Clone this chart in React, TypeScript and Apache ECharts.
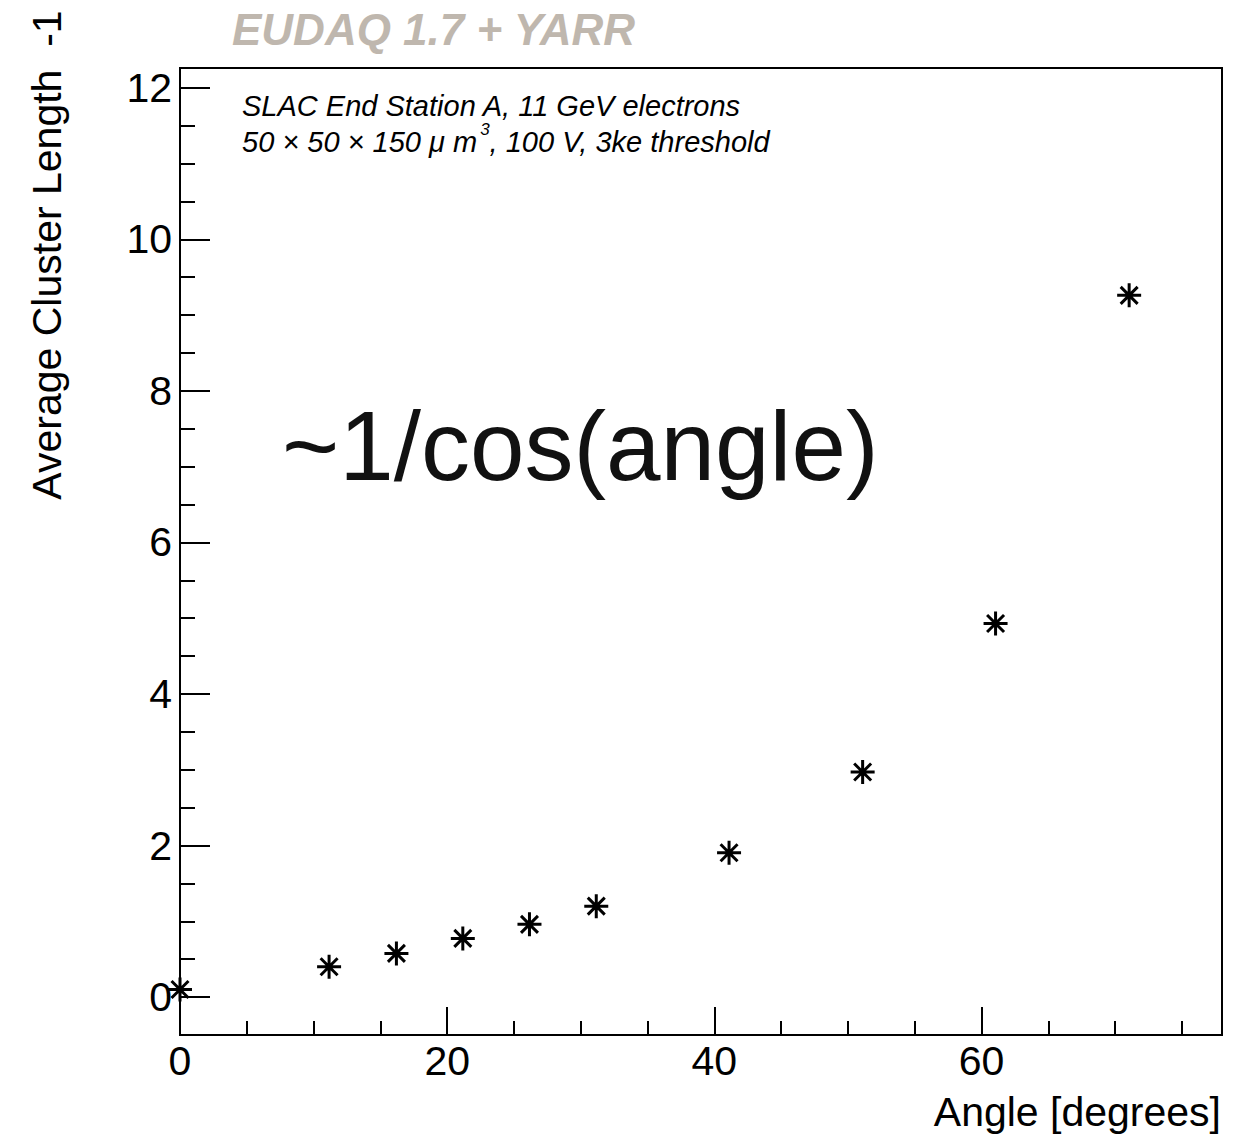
import React, { useEffect, useRef } from "react";
import * as echarts from "echarts";

const angles = [0, 11.16, 16.2, 21.17, 26.16, 31.16, 41.1, 51.1, 61.05, 71.05];
const clusterLen = [0.1, 0.4, 0.577, 0.775, 0.96, 1.2, 1.905, 2.97, 4.93, 9.26];

const xMajor = [0, 20, 40, 60];
const xMinor = [5, 10, 15, 25, 30, 35, 45, 50, 55, 65, 70, 75];
const yMajor = [0, 2, 4, 6, 8, 10, 12];
const yMinor = [-0.5, 0.5, 1, 1.5, 2.5, 3, 3.5, 4.5, 5, 5.5, 6.5, 7, 7.5, 8.5, 9, 9.5, 10.5, 11, 11.5];

const FONT = "'Liberation Sans', Arial, Helvetica, sans-serif";
const STAR = "path://M0 -10 L0 10 M-10 0 L10 0 M-7.07 -7.07 L7.07 7.07 M-7.07 7.07 L7.07 -7.07";

export default function App() {
  const ref = useRef<HTMLDivElement>(null);
  useEffect(() => {
    document.body.style.margin = "0";
    const chart = echarts.init(ref.current!, null, { renderer: "svg" });
    const axisLine = { show: true, onZero: false, lineStyle: { color: "#000", width: 2 } };
    const tickStyle = { color: "#000", width: 2 };
    const labelStyle = { color: "#000", fontSize: 41, fontFamily: FONT };
    chart.setOption({
      animation: false,
      backgroundColor: "#fff",
      grid: {
        left: 180,
        right: 25,
        top: 68,
        bottom: 102,
        show: true,
        borderColor: "#000",
        borderWidth: 2,
        backgroundColor: "transparent",
      },
      xAxis: [
        {
          type: "value",
          min: 0,
          max: 78,
          position: "bottom",
          axisLine,
          axisTick: { show: true, inside: true, length: 28, customValues: xMajor, lineStyle: tickStyle },
          axisLabel: { ...labelStyle, margin: 5, customValues: xMajor },
          splitLine: { show: false },
        },
        {
          type: "value",
          min: 0,
          max: 78,
          position: "bottom",
          axisLine: { show: false, onZero: false },
          axisTick: { show: true, inside: true, length: 14, customValues: xMinor, lineStyle: tickStyle },
          axisLabel: { show: false },
          splitLine: { show: false },
        },
      ],
      yAxis: [
        {
          type: "value",
          min: -0.5,
          max: 12.26,
          position: "left",
          axisLine,
          axisTick: { show: true, inside: true, length: 30, customValues: yMajor, lineStyle: tickStyle },
          axisLabel: { ...labelStyle, margin: 8, customValues: yMajor },
          splitLine: { show: false },
        },
        {
          type: "value",
          min: -0.5,
          max: 12.26,
          position: "left",
          axisLine: { show: false, onZero: false },
          axisTick: { show: true, inside: true, length: 15, customValues: yMinor, lineStyle: tickStyle },
          axisLabel: { show: false },
          splitLine: { show: false },
        },
      ],
      series: [
        {
          type: "scatter",
          xAxisIndex: 0,
          yAxisIndex: 0,
          symbol: STAR,
          symbolSize: 24,
          itemStyle: { color: "none", borderColor: "#000", borderWidth: 3, opacity: 1 },
          data: angles.map((a, i) => [a, clusterLen[i]]),
        },
      ],
      graphic: [
        {
          type: "text",
          x: 232,
          y: 29,
          style: {
            text: "EUDAQ 1.7 + YARR",
            fontFamily: FONT,
            fontSize: 44,
            fontWeight: "bold",
            fontStyle: "italic",
            fill: "#bfb7ae",
            textAlign: "left",
            textVerticalAlign: "middle",
          },
        },
        {
          type: "text",
          x: 47,
          y: 255,
          rotation: Math.PI / 2,
          style: {
            text: "Average Cluster Length  -1",
            fontFamily: FONT,
            fontSize: 41,
            fill: "#000",
            textAlign: "center",
            textVerticalAlign: "middle",
          },
        },
        {
          type: "text",
          x: 1221,
          y: 1112,
          style: {
            text: "Angle [degrees]",
            fontFamily: FONT,
            fontSize: 41,
            fill: "#000",
            textAlign: "right",
            textVerticalAlign: "middle",
          },
        },
        {
          type: "text",
          x: 242,
          y: 106,
          style: {
            text: "SLAC End Station A, 11 GeV electrons",
            fontFamily: FONT,
            fontSize: 29,
            fontStyle: "italic",
            fill: "#000",
            textAlign: "left",
            textVerticalAlign: "middle",
          },
        },
        {
          type: "text",
          x: 242,
          y: 140,
          style: {
            text: "{a|50 × 50 × 150 μ m}{s|3}{a|, 100 V, 3ke threshold}",
            fontFamily: FONT,
            fontSize: 29,
            fontStyle: "italic",
            fill: "#000",
            textAlign: "left",
            textVerticalAlign: "middle",
            rich: {
              a: { fontFamily: FONT, fontSize: 29, fontStyle: "italic", fill: "#000", lineHeight: 32, verticalAlign: "bottom" },
              s: { fontFamily: FONT, fontSize: 17, fontStyle: "italic", fill: "#000", lineHeight: 17, verticalAlign: "bottom", padding: [0, 0, 18, 3] },
            },
          },
        },
        {
          type: "text",
          x: 282,
          y: 446,
          style: {
            text: "~1/cos(angle)",
            fontFamily: FONT,
            fontSize: 98,
            fill: "#111",
            textAlign: "left",
            textVerticalAlign: "middle",
          },
        },
      ],
    });
    return () => chart.dispose();
  }, []);
  return <div ref={ref} style={{ width: 1247, height: 1137 }} />;
}
